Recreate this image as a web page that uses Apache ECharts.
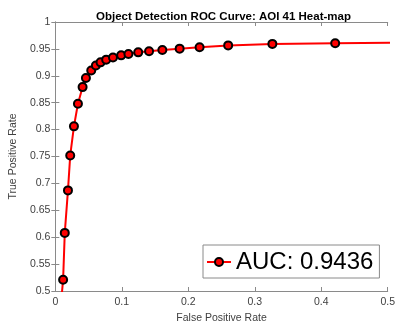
<!DOCTYPE html>
<html><head><meta charset="utf-8">
<script src="https://cdn.jsdelivr.net/npm/echarts@6/dist/echarts.min.js"></script>
<style>html,body{margin:0;padding:0;background:#fff}#c{width:398px;height:329px}</style>
</head><body><div id="c"></div>
<script>
const fpr = [0.008, 0.0117, 0.0142, 0.019, 0.0224, 0.028, 0.034, 0.041, 0.046, 0.054, 0.061, 0.068, 0.0765, 0.0867, 0.099, 0.110, 0.1247, 0.141, 0.161, 0.187, 0.217, 0.260, 0.3265, 0.421, 0.56];
const tpr = [0.47, 0.521, 0.608, 0.687, 0.752, 0.806, 0.848, 0.879, 0.896, 0.910, 0.919, 0.925, 0.930, 0.934, 0.938, 0.9406, 0.9436, 0.9455, 0.948, 0.9505, 0.953, 0.9565, 0.9593, 0.9604, 0.9618];
const xTicks = {min: 0, max: 0.5, interval: 0.1};
const yTicks = {min: 0.5, max: 1, interval: 0.05};
const seriesName = 'AUC: 0.9436';
const titleText = 'Object Detection ROC Curve: AOI 41 Heat-map';

const font = 'Liberation Sans, Arial, sans-serif';
const axisCol = '#8a8a8a';
const chart = echarts.init(document.getElementById('c'));
const baseAxis = (extra) => Object.assign({
  type: 'value',
  axisLine: {show: true, lineStyle: {color: axisCol, width: 1}},
  axisTick: {show: true, inside: true, length: 4, lineStyle: {color: axisCol}},
  splitLine: {show: false},
  axisLabel: {color: '#404040', fontFamily: font, fontSize: 10.5}
}, extra);
chart.setOption({
  animation: false,
  title: {text: titleText, left: 91, top: 6,
    textStyle: {fontFamily: font, fontSize: 11.5, fontWeight: 'bold', color: '#000'}},
  grid: {left: 49, right: 7, top: 22, bottom: 38, containLabel: false},
  xAxis: [
    baseAxis(Object.assign({position: 'bottom', name: 'False Positive Rate', nameLocation: 'middle', nameGap: 20,
      nameTextStyle: {color: '#404040', fontFamily: font, fontSize: 10.5}, axisLabel: {color: '#404040', fontFamily: font, fontSize: 10.5, margin: 6}}, xTicks)),
    baseAxis(Object.assign({position: 'top', axisLabel: {show: false}}, xTicks))
  ],
  yAxis: [
    baseAxis(Object.assign({position: 'left', name: 'True Positive Rate', nameLocation: 'middle', nameGap: 32,
      nameTextStyle: {color: '#404040', fontFamily: font, fontSize: 10.5}, axisLabel: {color: '#404040', fontFamily: font, fontSize: 10.5, margin: 5}}, yTicks)),
    baseAxis(Object.assign({position: 'right', axisLabel: {show: false}}, yTicks))
  ],
  legend: {
    left: 203, top: 245, orient: 'horizontal',
    backgroundColor: '#fff', borderColor: '#8a8a8a', borderWidth: 1, borderRadius: 0,
    padding: [5, 6, 4, 3], itemWidth: 24, itemHeight: 10, itemGap: 4,
    textStyle: {fontFamily: font, fontSize: 24, color: '#000'},
    data: [seriesName]
  },
  series: [{
    name: seriesName, type: 'line', clip: true,
    data: fpr.map((x, i) => [x, tpr[i]]),
    lineStyle: {color: '#ff0000', width: 2},
    itemStyle: {color: '#ff0000', borderColor: '#000', borderWidth: 2},
    symbol: 'circle', symbolSize: 8, showAllSymbol: true
  }]
});
</script></body></html>
